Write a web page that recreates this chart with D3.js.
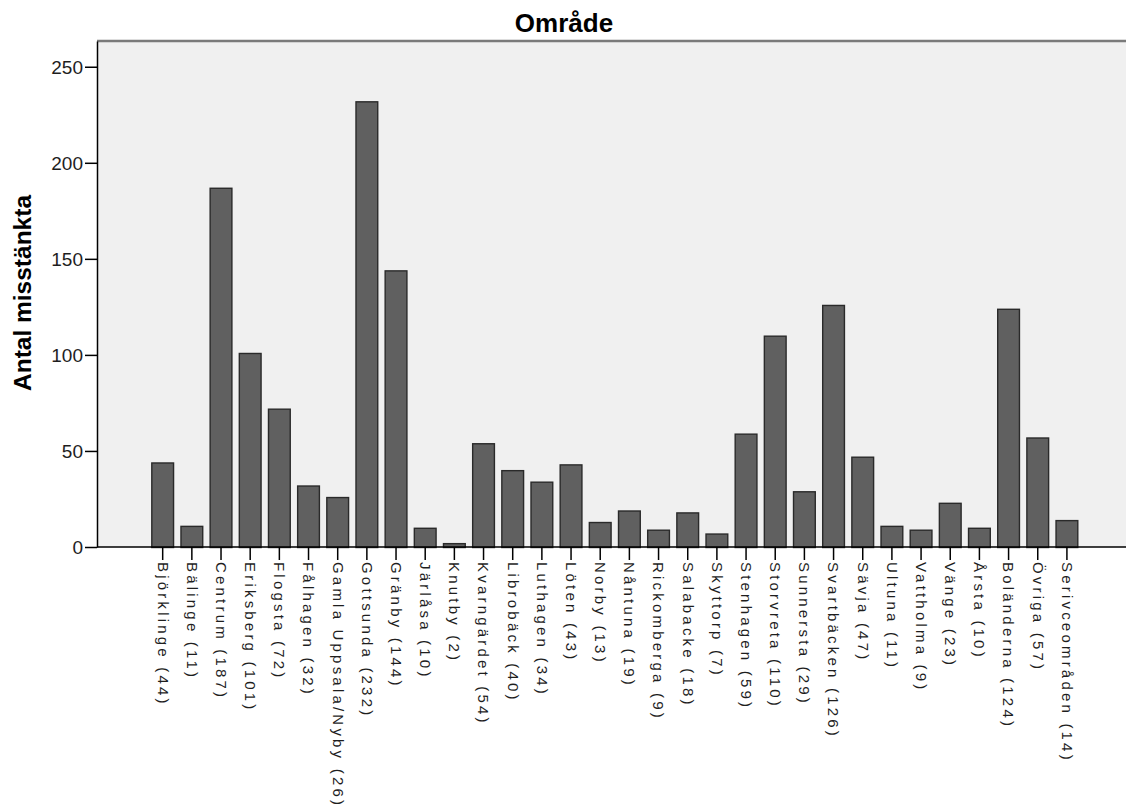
<!DOCTYPE html>
<html lang="sv">
<head>
<meta charset="UTF-8">
<title>Område</title>
<script src="https://d3js.org/d3.v7.min.js"></script>
<style>
    body { margin: 0; background: #fff; font-family: "Liberation Sans", Arial, sans-serif; }
    svg { display: block; }
    .tick text { fill: #1e1e1e; }
</style>
</head>
<body>
<div id="chart"></div>
<script>
    // areas and number of suspects
    const areas = ['Björklinge', 'Bälinge', 'Centrum', 'Eriksberg', 'Flogsta', 'Fålhagen',
        'Gamla Uppsala/Nyby', 'Gottsunda', 'Gränby', 'Järlåsa', 'Knutby', 'Kvarngärdet',
        'Librobäck', 'Luthagen', 'Löten', 'Norby', 'Nåntuna', 'Rickomberga', 'Salabacke',
        'Skyttorp', 'Stenhagen', 'Storvreta', 'Sunnersta', 'Svartbäcken', 'Sävja', 'Ultuna',
        'Vattholma', 'Vänge', 'Årsta', 'Boländerna', 'Övriga', 'Serivceområden'];
    const counts = [44, 11, 187, 101, 72, 32, 26, 232, 144, 10, 2, 54, 40, 34, 43, 13, 19, 9,
        18, 7, 59, 110, 29, 126, 47, 11, 9, 23, 10, 124, 57, 14];
    const yTicks = [0, 50, 100, 150, 200, 250];

    const width = 1126, height = 812;
    const plotLeft = 97, plotTop = 41, plotBottom = 547;
    const font = '"Liberation Sans", Arial, sans-serif';

    const svg = d3.select('#chart').append('svg')
        .attr('width', width)
        .attr('height', height);

    const x = d3.scaleBand()
        .domain(areas.map((a, i) => a + ' (' + counts[i] + ')'))
        .range([148.1, 1081.5])
        .paddingInner(0.22)
        .paddingOuter(0.11);

    const y = d3.scaleLinear()
        .domain([0, 263.4])
        .range([plotBottom, plotTop]);

    // plot background
    svg.append('rect')
        .attr('x', plotLeft)
        .attr('y', plotTop)
        .attr('width', width - plotLeft)
        .attr('height', plotBottom - plotTop)
        .attr('fill', '#f0f0f0');

    svg.append('line')
        .attr('x1', plotLeft).attr('x2', width)
        .attr('y1', plotTop).attr('y2', plotTop)
        .attr('stroke', '#7a7a7a')
        .attr('stroke-width', 2.5);

    const labels = x.domain();

    svg.selectAll('rect.bar')
        .data(counts)
        .enter()
        .append('rect')
        .attr('class', 'bar')
        .attr('x', (d, i) => x(labels[i]) + 0.5)
        .attr('y', d => y(d) + 0.5)
        .attr('width', x.bandwidth() - 1)
        .attr('height', d => plotBottom - y(d))
        .attr('fill', '#606060')
        .attr('stroke', '#2a2a2a')
        .attr('stroke-width', 1.4);

    // y axis
    const yAxis = svg.append('g')
        .attr('transform', `translate(${plotLeft},0)`)
        .call(d3.axisLeft(y).tickValues(yTicks).tickSize(12).tickSizeOuter(0).tickPadding(2));
    yAxis.select('.domain').attr('stroke', '#000').attr('stroke-width', 1.5);
    yAxis.selectAll('.tick line').attr('stroke', '#000').attr('stroke-width', 1.5);
    yAxis.selectAll('.tick text')
        .attr('dy', '0.36em')
        .style('font-size', '19px')
        .style('font-family', font);

    // x axis
    const xAxis = svg.append('g')
        .attr('transform', `translate(0,${plotBottom})`)
        .call(d3.axisBottom(x).tickSize(13).tickSizeOuter(0));
    xAxis.select('.domain').remove();
    svg.append('line')
        .attr('x1', plotLeft).attr('x2', width)
        .attr('y1', plotBottom).attr('y2', plotBottom)
        .attr('stroke', '#000')
        .attr('stroke-width', 1.5);
    xAxis.selectAll('.tick line').attr('stroke', '#000').attr('stroke-width', 1.5);
    xAxis.selectAll('.tick text')
        .attr('transform', 'rotate(90)')
        .attr('text-anchor', 'start')
        .attr('x', 15)
        .attr('y', 0)
        .attr('dy', '0.34em')
        .style('font-size', '15px')
        .style('letter-spacing', '3.2px')
        .style('font-family', font);

    // titles
    svg.append('text')
        .attr('x', 564)
        .attr('y', 32)
        .attr('text-anchor', 'middle')
        .style('font-family', font)
        .style('font-size', '26px')
        .style('font-weight', 'bold')
        .text('Område');

    svg.append('text')
        .attr('transform', 'translate(31,293) rotate(-90)')
        .attr('text-anchor', 'middle')
        .style('font-family', font)
        .style('font-size', '24.5px')
        .style('font-weight', 'bold')
        .text('Antal misstänkta');
</script>
</body>
</html>
